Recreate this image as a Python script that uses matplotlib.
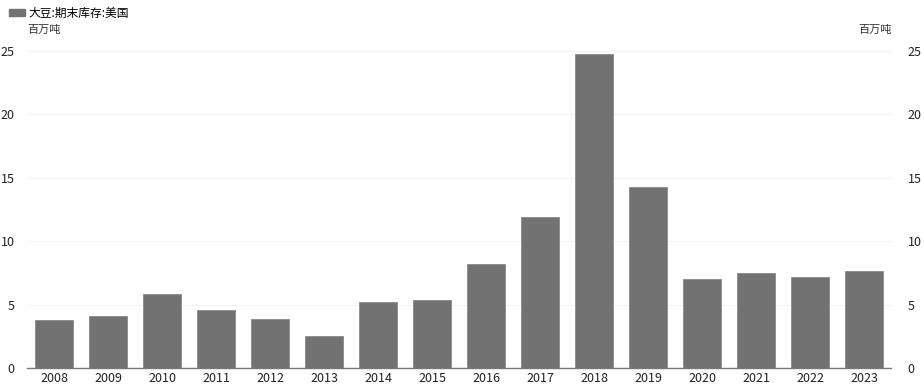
import matplotlib
matplotlib.use('Agg')
import matplotlib.pyplot as plt
from matplotlib.patches import Patch

plt.rcParams['font.family'] = ['Noto Sans CJK SC', 'DejaVu Sans']

years = ['2008', '2009', '2010', '2011', '2012', '2013', '2014', '2015',
         '2016', '2017', '2018', '2019', '2020', '2021', '2022', '2023']
stocks = [3.76, 4.08, 5.84, 4.60, 3.84, 2.50, 5.18, 5.34,
          8.20, 11.90, 24.76, 14.30, 7.00, 7.47, 7.15, 7.62]
series_name = '大豆:期末库存:美国'
unit = '百万吨'
yticks = [0, 5, 10, 15, 20, 25]

W, H = 924, 392
fig = plt.figure(figsize=(W/100, H/100), dpi=100)
ax = fig.add_axes([27/W, 1-368/H, (891-27)/W, (368-51)/H])

bar_color = '#727272'
x = list(range(len(years)))
ax.bar(x, stocks, width=0.70, color=bar_color, edgecolor='#8a8a8a', linewidth=0.6, zorder=3)
ax.set_xlim(-0.5, len(years)-0.5)
ax.set_ylim(0, 25)
ax.set_xticks(x)
ax.set_xticklabels(years, fontsize=9, color='#222222')
ax.set_yticks(yticks)
ax.set_yticklabels([str(t) for t in yticks], fontsize=9, color='#222222')
ax.tick_params(axis='both', length=0, pad=3)
ax.tick_params(axis='y', pad=9)
ax.grid(axis='y', color='#f2f2f2', linewidth=0.8, zorder=0)
for s in ['top', 'right', 'left']:
    ax.spines[s].set_visible(False)
ax.spines['bottom'].set_color('#777777')
ax.spines['bottom'].set_linewidth(1.0)

ax2 = ax.twinx()
ax2.set_ylim(0, 25)
ax2.set_yticks(yticks)
ax2.set_yticklabels([str(t) for t in yticks], fontsize=9, color='#222222')
ax2.tick_params(axis='y', length=0, pad=12)
for s in ['top', 'right', 'left', 'bottom']:
    ax2.spines[s].set_visible(False)

fig.legend(handles=[Patch(facecolor=bar_color, edgecolor=bar_color)], labels=[series_name],
           loc='upper left', bbox_to_anchor=(4/W, 1-2/H), frameon=False, fontsize=8.5,
           handlelength=1.4, handleheight=0.5, handletextpad=0.3, borderaxespad=0)
fig.text(27/W, 1-30/H, unit, fontsize=8, color='#333333', va='center', ha='left')
fig.text(892/W, 1-30/H, unit, fontsize=8, color='#333333', va='center', ha='right')

fig.savefig('out.png', dpi=100)
